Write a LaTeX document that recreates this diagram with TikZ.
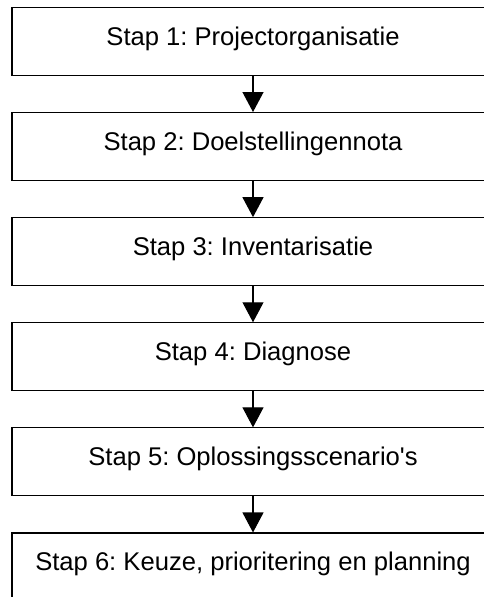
\documentclass[tikz,border=0pt]{standalone}
\usepackage{fontspec}
\setmainfont{Liberation Sans}[Ligatures=TeXOff]
\frenchspacing
\usetikzlibrary{positioning,arrows.meta}

\begin{document}
\begin{tikzpicture}[x=1pt, y=1pt, node distance=36pt,
  stapbox/.style={draw, line width=1.1pt, minimum width=482pt, minimum height=68pt,
    inner sep=0pt, text height=0.72em, text depth=0pt,
    font=\fontsize{25.6}{30}\selectfont},
  stapflow/.style={-{Triangle[length=20pt,width=21pt]}, line width=1.1pt}]
  \useasboundingbox (0,0) rectangle (484,-597);
  \node[stapbox] (stap1) at (253,-41.5) {Stap 1: Projectorganisatie};
  \node[stapbox, below=of stap1] (stap2) {Stap 2: Doelstellingennota};
  \node[stapbox, below=of stap2] (stap3) {Stap 3: Inventarisatie};
  \node[stapbox, below=of stap3] (stap4) {Stap 4: Diagnose};
  \node[stapbox, below=of stap4] (stap5) {Stap 5: Oplossingsscenario's};
  \node[stapbox, below=of stap5] (stap6) {Stap 6: Keuze, prioritering en planning};
  \foreach \a/\b in {1/2,2/3,3/4,4/5,5/6}
    \draw[stapflow] (stap\a) -- (stap\b);
\end{tikzpicture}
\end{document}
